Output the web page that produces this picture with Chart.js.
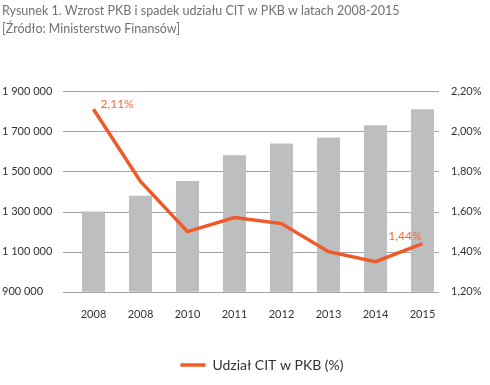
<!DOCTYPE html>
<html>
<head>
<meta charset="utf-8">
<script src="https://cdn.jsdelivr.net/npm/chart.js@4"></script>
<style>
  html, body { margin: 0; padding: 0; background: #fff; }
  #wrap { position: relative; width: 490px; height: 385px; }
</style>
</head>
<body>
<div id="wrap"><canvas id="chart" width="490" height="385"></canvas></div>
<script>
const years = ["2008", "2008", "2010", "2011", "2012", "2013", "2014", "2015"];
const gdp = [1300000, 1379000, 1453000, 1581000, 1640000, 1670000, 1730000, 1810000];
const citShare = [2.11, 1.75, 1.50, 1.57, 1.54, 1.40, 1.35, 1.44];
const pointLabels = ["2,11%", "", "", "", "", "", "", "1,44%"];
const titleLines = [
  "Rysunek 1. Wzrost PKB i spadek udziału CIT w PKB w latach 2008-2015",
  "[Źródło: Ministerstwo Finansów]"
];
const legendLabel = "Udział CIT w PKB (%)";

const orange = "#f05a28";
const fontFamily = "Lato, 'Open Sans', sans-serif";

// gridlines sit a few px left of the bar area in the original
const gridPlugin = {
  id: "shiftedGrid",
  afterLayout(chart) {
    // legend is drawn a bit right of centre
    chart.legend.left += 16;
    chart.legend.right += 16;
  },
  beforeDatasetsDraw(chart) {
    const ctx = chart.ctx;
    const area = chart.chartArea;
    const ys = chart.scales.y;
    ctx.save();
    ctx.strokeStyle = "#a3a3a3";
    ctx.lineWidth = 1;
    ys.ticks.forEach(t => {
      const y = Math.round(ys.getPixelForValue(t.value)) + 0.5;
      ctx.beginPath();
      ctx.moveTo(area.left - 7, y);
      ctx.lineTo(area.right - 7, y);
      ctx.stroke();
    });
    ctx.restore();
  }
};

// print the two labelled points (first and last)
const pointLabelPlugin = {
  id: "pointLabels",
  afterDatasetsDraw(chart) {
    const ctx = chart.ctx;
    const meta = chart.getDatasetMeta(0);
    ctx.save();
    ctx.font = "12px " + fontFamily;
    ctx.fillStyle = "#f26a3c";
    ctx.textBaseline = "middle";
    meta.data.forEach((pt, i) => {
      if (!pointLabels[i]) return;
      if (i === 0) {
        ctx.textAlign = "left";
        ctx.fillText(pointLabels[i], pt.x + 7, pt.y - 5);
      } else {
        ctx.textAlign = "right";
        ctx.fillText(pointLabels[i], pt.x - 1, pt.y - 8);
      }
    });
    ctx.restore();
  }
};

function spaced(v) {
  return String(v).replace(/\B(?=(\d{3})+(?!\d))/g, " ");
}

new Chart(document.getElementById("chart"), {
  type: "bar",
  data: {
    labels: years,
    datasets: [
      {
        type: "line",
        label: legendLabel,
        data: citShare,
        yAxisID: "y2",
        borderColor: orange,
        backgroundColor: orange,
        borderWidth: 3.5,
        pointRadius: 0,
        tension: 0,
        order: 0
      },
      {
        type: "bar",
        label: "PKB",
        data: gdp,
        yAxisID: "y",
        backgroundColor: "#bdbec0",
        categoryPercentage: 1,
        barPercentage: 0.49,
        order: 1
      }
    ]
  },
  options: {
    responsive: false,
    animation: false,
    layout: { padding: { left: 2, right: 0, top: 2, bottom: 3 } },
    plugins: {
      tooltip: { enabled: false },
      title: {
        display: true,
        text: titleLines,
        align: "start",
        color: "#707173",
        font: { family: fontFamily, size: 12.5, weight: "normal", lineHeight: 1.45 },
        padding: { top: 0, bottom: 53 }
      },
      legend: {
        position: "bottom",
        labels: {
          filter: item => item.datasetIndex === 0,
          usePointStyle: true,
          pointStyle: "line",
          pointStyleWidth: 25,
          color: "#333",
          font: { family: fontFamily, size: 14 },
          padding: 10
        }
      }
    },
    scales: {
      x: {
        grid: { display: false },
        border: { display: false },
        afterFit: s => { s.height += 19; },
        ticks: {
          color: "#333",
          font: { family: fontFamily, size: 11 },
          padding: 8
        }
      },
      y: {
        position: "left",
        min: 900000,
        max: 1900000,
        grid: { display: false },
        border: { display: false },
        afterFit: s => { s.width = 68; },
        ticks: {
          stepSize: 200000,
          crossAlign: "far",
          color: "#333",
          font: { family: fontFamily, size: 11 },
          callback: v => spaced(v)
        }
      },
      y2: {
        position: "right",
        min: 1.2,
        max: 2.2,
        grid: { display: false },
        border: { display: false },
        afterFit: s => { s.width = 44; },
        ticks: {
          stepSize: 0.2,
          padding: -3,
          color: "#333",
          font: { family: fontFamily, size: 11 },
          callback: v => v.toFixed(2).replace(".", ",") + "%"
        }
      }
    }
  },
  plugins: [gridPlugin, pointLabelPlugin]
});
</script>
</body>
</html>
